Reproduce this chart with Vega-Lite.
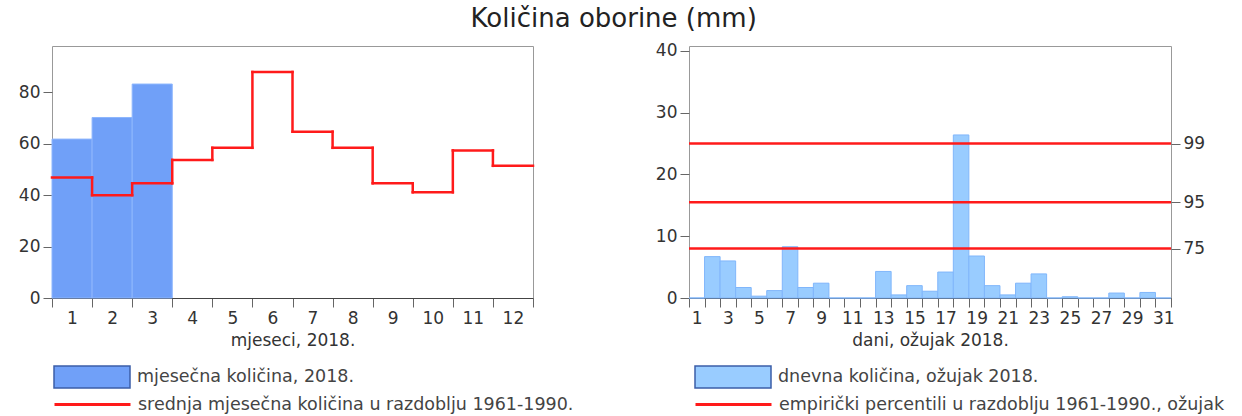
{
  "$schema": "https://vega.github.io/schema/vega-lite/v6.json",
  "padding": {"left": 17, "top": 6, "right": 5, "bottom": 5},
  "spacing": 79,
  "title": {"text": "Količina oborine (mm)", "fontSize": 26, "font": "DejaVu Sans", "fontWeight": "normal", "color": "#222", "anchor": "middle", "offset": 9, "dx": -8},
  "datasets": {
    "monthly": [
      {"month": 1, "amount": 61.8},
      {"month": 2, "amount": 70.2},
      {"month": 3, "amount": 83.2}
    ],
    "mean": [
      {"month": 1, "mean": 46.9},
      {"month": 2, "mean": 40.0},
      {"month": 3, "mean": 44.6},
      {"month": 4, "mean": 53.7},
      {"month": 5, "mean": 58.4},
      {"month": 6, "mean": 87.9},
      {"month": 7, "mean": 64.7},
      {"month": 8, "mean": 58.4},
      {"month": 9, "mean": 44.6},
      {"month": 10, "mean": 41.1},
      {"month": 11, "mean": 57.4},
      {"month": 12, "mean": 51.4}
    ],
    "daily": [
      {"day": 1, "amount": 0},
      {"day": 2, "amount": 6.7},
      {"day": 3, "amount": 6.0},
      {"day": 4, "amount": 1.7},
      {"day": 5, "amount": 0.3},
      {"day": 6, "amount": 1.2},
      {"day": 7, "amount": 8.3},
      {"day": 8, "amount": 1.7},
      {"day": 9, "amount": 2.4},
      {"day": 10, "amount": 0},
      {"day": 11, "amount": 0},
      {"day": 12, "amount": 0},
      {"day": 13, "amount": 4.3},
      {"day": 14, "amount": 0.5},
      {"day": 15, "amount": 2.0},
      {"day": 16, "amount": 1.1},
      {"day": 17, "amount": 4.2},
      {"day": 18, "amount": 26.4},
      {"day": 19, "amount": 6.8},
      {"day": 20, "amount": 2.0},
      {"day": 21, "amount": 0.5},
      {"day": 22, "amount": 2.4},
      {"day": 23, "amount": 3.9},
      {"day": 24, "amount": 0},
      {"day": 25, "amount": 0.2},
      {"day": 26, "amount": 0},
      {"day": 27, "amount": 0},
      {"day": 28, "amount": 0.8},
      {"day": 29, "amount": 0},
      {"day": 30, "amount": 0.9},
      {"day": 31, "amount": 0}
    ],
    "percentiles": [
      {"percentile": "75", "value": 8.0},
      {"percentile": "95", "value": 15.5},
      {"percentile": "99", "value": 25.0}
    ]
  },
  "hconcat": [
    {
      "width": 481,
      "height": 252,
      "layer": [
        {
          "data": {"name": "monthly"},
          "transform": [
            {"bin": {"extent": [0.5, 12.5], "step": 1, "anchor": 0.5, "nice": false}, "field": "month", "as": ["m0", "m1"]}
          ],
          "mark": {"type": "bar", "stroke": "#8db6fd", "strokeWidth": 1},
          "encoding": {
            "x": {"field": "m0", "type": "quantitative",
              "scale": {"domain": [0.5, 12.5], "nice": false, "zero": false},
              "axis": {"values": [0.5, 1.5, 2.5, 3.5, 4.5, 5.5, 6.5, 7.5, 8.5, 9.5, 10.5, 11.5, 12.5],
                "labelExpr": "datum.value < 12 ? format(datum.value + 0.5, 'd') : ''",
                "labelOffset": 20, "labelFlush": false, "labelOverlap": false, "labelBound": false,
                "title": "mjeseci, 2018."}},
            "x2": {"field": "m1"},
            "y": {"field": "amount", "type": "quantitative",
              "scale": {"domain": [0, 98], "nice": false},
              "axis": {"values": [0, 20, 40, 60, 80], "domain": false, "title": null}},
            "y2": {"datum": 0},
            "fill": {"datum": "mjesečna količina, 2018.", "type": "nominal",
              "scale": {"range": ["#70a0f8"]},
              "legend": {"orient": "none", "legendX": 1, "legendY": 292, "title": null,
                "symbolType": "M-1,-0.29H1V0.29H-1Z", "symbolStrokeColor": "#3b5ea8", "symbolStrokeWidth": 1.5}}
          }
        },
        {
          "data": {"name": "mean"},
          "transform": [
            {"bin": {"extent": [0.5, 12.5], "step": 1, "anchor": 0.5, "nice": false}, "field": "month", "as": ["m0", "m1"]}
          ],
          "mark": {"type": "rule", "strokeWidth": 2.5, "strokeCap": "square"},
          "encoding": {
            "x": {"field": "m0", "type": "quantitative"},
            "x2": {"field": "m1"},
            "y": {"field": "mean", "type": "quantitative"},
            "stroke": {"datum": "srednja mjesečna količina u razdoblju 1961-1990.", "type": "nominal",
              "scale": {"range": ["#ff1a1a"]},
              "legend": {"orient": "none", "legendX": 1, "legendY": 319, "title": null,
                "symbolType": "M-1,0H1", "symbolFillColor": "transparent", "symbolStrokeWidth": 3}}
          }
        },
        {
          "data": {"name": "mean"},
          "transform": [
            {"bin": {"extent": [0.5, 12.5], "step": 1, "anchor": 0.5, "nice": false}, "field": "month", "as": ["m0", "m1"]},
            {"window": [{"op": "lead", "field": "mean", "as": "next"}], "sort": [{"field": "month", "order": "ascending"}]},
            {"filter": "datum.next != null"}
          ],
          "mark": {"type": "rule", "strokeWidth": 2.5, "strokeCap": "square"},
          "encoding": {
            "x": {"field": "m1", "type": "quantitative"},
            "y": {"field": "mean", "type": "quantitative"},
            "y2": {"field": "next"},
            "stroke": {"datum": "srednja mjesečna količina u razdoblju 1961-1990.", "type": "nominal"}
          }
        }
      ]
    },
    {
      "width": 482,
      "height": 252,
      "layer": [
        {
          "data": {"name": "daily"},
          "transform": [
            {"bin": {"extent": [0.5, 31.5], "step": 1, "anchor": 0.5, "nice": false}, "field": "day", "as": ["d0", "d1"]}
          ],
          "mark": {"type": "bar", "stroke": "#80b6fb", "strokeWidth": 1},
          "encoding": {
            "x": {"field": "d0", "type": "quantitative",
              "scale": {"domain": [0.5, 31.5], "nice": false, "zero": false},
              "axis": {"values": [0.5, 1.5, 2.5, 3.5, 4.5, 5.5, 6.5, 7.5, 8.5, 9.5, 10.5, 11.5, 12.5, 13.5, 14.5, 15.5, 16.5, 17.5, 18.5, 19.5, 20.5, 21.5, 22.5, 23.5, 24.5, 25.5, 26.5, 27.5, 28.5, 29.5, 30.5, 31.5],
                "labelExpr": "(datum.value < 31 && (datum.value + 0.5) % 2 == 1) ? format(datum.value + 0.5, 'd') : ''",
                "labelOffset": 7.77, "labelFlush": false, "labelOverlap": false, "labelBound": false,
                "title": "dani, ožujak 2018."}},
            "x2": {"field": "d1"},
            "y": {"field": "amount", "type": "quantitative",
              "scale": {"domain": [0, 40.8], "nice": false},
              "axis": {"values": [0, 10, 20, 30, 40], "domain": false, "title": null, "orient": "left"}},
            "y2": {"datum": 0},
            "fill": {"datum": "dnevna količina, ožujak 2018.", "type": "nominal",
              "scale": {"range": ["#99ccff"]},
              "legend": {"orient": "none", "legendX": 5, "legendY": 292, "title": null,
                "symbolType": "M-1,-0.29H1V0.29H-1Z", "symbolStrokeColor": "#3b5ea8", "symbolStrokeWidth": 1.5}}
          }
        },
        {
          "data": {"name": "percentiles"},
          "mark": {"type": "rule", "strokeWidth": 2.5},
          "encoding": {
            "y": {"field": "value", "type": "quantitative",
              "axis": {"orient": "right", "values": [8.0, 15.5, 25.0], "domain": false, "title": null,
                "labelExpr": "datum.value > 20 ? '99' : (datum.value > 10 ? '95' : '75')"}},
            "stroke": {"datum": "empirički percentili u razdoblju 1961-1990., ožujak", "type": "nominal",
              "scale": {"range": ["#ff1a1a"]},
              "legend": {"orient": "none", "legendX": 5, "legendY": 319, "title": null,
                "symbolType": "M-1,0H1", "symbolFillColor": "transparent", "symbolStrokeWidth": 3}}
          }
        }
      ],
      "resolve": {"axis": {"y": "independent"}}
    }
  ],
  "resolve": {"scale": {"fill": "independent", "stroke": "independent", "x": "independent", "y": "independent"}, "legend": {"fill": "independent", "stroke": "independent"}},
  "config": {
    "font": "DejaVu Sans",
    "view": {"stroke": "#999", "strokeWidth": 1},
    "axis": {"labelFont": "DejaVu Sans", "labelFontSize": 17, "labelColor": "#333", "titleFont": "DejaVu Sans", "titleFontSize": 17, "titleFontWeight": "normal", "titleColor": "#333", "tickColor": "#666", "tickSize": 9, "labelPadding": 3, "domainColor": "#444", "grid": false, "titlePadding": 6},
    "legend": {"symbolSize": 5776, "labelFont": "DejaVu Sans", "labelFontSize": 17.5, "labelColor": "#444", "labelLimit": 700, "rowPadding": 6, "padding": 0, "labelOffset": 6}
  }
}
